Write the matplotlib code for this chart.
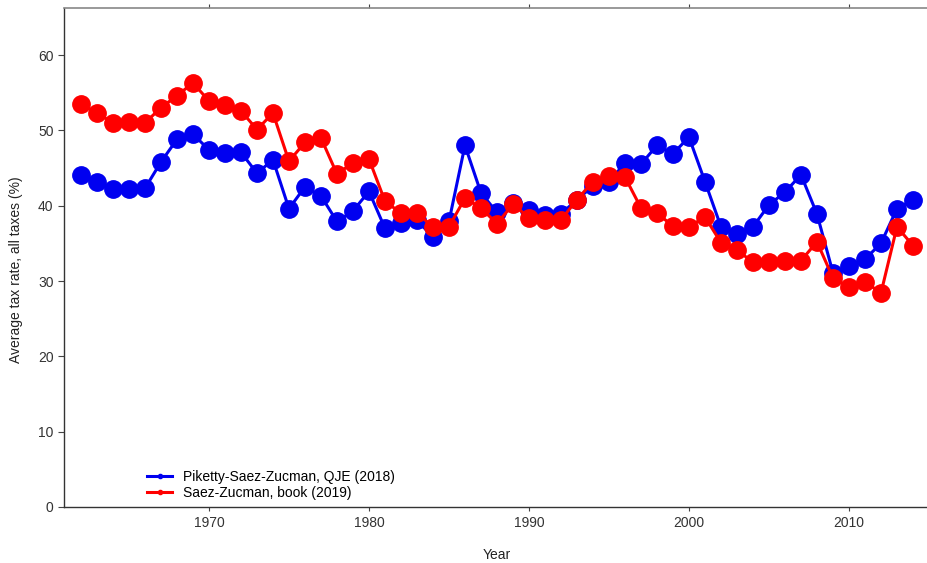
import matplotlib
matplotlib.use("Agg")
import matplotlib.pyplot as plt
from matplotlib.lines import Line2D

plt.rcParams['font.family'] = ['Liberation Sans', 'DejaVu Sans']

years = list(range(1962, 2015))
psz_2018 = [44.1, 43.2, 42.2, 42.2, 42.3, 45.8, 48.8, 49.5, 47.4, 47.0,
            47.1, 44.3, 46.1, 39.6, 42.5, 41.3, 37.9, 39.3, 41.9, 37.0,
            37.7, 38.1, 35.8, 37.9, 48.0, 41.7, 39.1, 40.3, 39.4, 38.8,
            38.9, 40.8, 42.6, 43.1, 45.7, 45.5, 48.0, 46.9, 49.1, 43.2,
            37.2, 36.3, 37.2, 40.1, 41.8, 44.1, 38.9, 31.1, 32.0, 32.9,
            35.0, 39.6, 40.8]
sz_2019 = [53.5, 52.3, 51.0, 51.1, 51.0, 53.0, 54.6, 56.3, 53.9, 53.4,
           52.6, 50.1, 52.3, 45.9, 48.4, 49.0, 44.2, 45.7, 46.2, 40.6,
           39.0, 39.0, 37.2, 37.2, 41.0, 39.7, 37.6, 40.2, 38.4, 38.1,
           38.1, 40.8, 43.2, 44.0, 43.8, 39.7, 39.0, 37.3, 37.2, 38.5,
           35.1, 34.1, 32.5, 32.5, 32.6, 32.7, 35.2, 30.4, 29.2, 29.9,
           28.4, 37.2, 34.7]
labels = ["Piketty-Saez-Zucman, QJE (2018)", "Saez-Zucman, book (2019)"]
xticks = [1970, 1980, 1990, 2000, 2010]
yticks = [0, 10, 20, 30, 40, 50, 60]

BLUE = '#0000f0'
RED = '#ff0000'

fig = plt.figure(figsize=(9.28, 5.63), dpi=100)
ax = fig.add_axes([64/928, 1-507/563, 1-64/928, (507-8)/563])

ax.plot(years, psz_2018, color=BLUE, lw=2.2, marker='o', ms=12.5,
        label=labels[0], zorder=3)
ax.plot(years, sz_2019, color=RED, lw=2.2, marker='o', ms=12.5,
        label=labels[1], zorder=4)

ax.set_xlim(1960.94, 2014.94)
ax.set_ylim(0, 66.24)
ax.set_xticks(xticks)
ax.set_yticks(yticks)
ax.tick_params(axis='both', direction='out', length=4, width=0.8,
               colors='#444444', labelsize=10, labelcolor='#333333')
ax.tick_params(axis='x', top=True, length=3)

for s in ['left', 'bottom']:
    ax.spines[s].set_color('#333333')
    ax.spines[s].set_linewidth(1.0)
ax.spines['top'].set_color('#888888')
ax.spines['top'].set_linewidth(1.2)
ax.spines['right'].set_visible(False)

ax.set_xlabel("Year", fontsize=10, color='#222222')
ax.xaxis.set_label_coords((497-64)/864, (507-548)/499)
ax.set_ylabel("Average tax rate, all taxes (%)", fontsize=10, color='#222222')
ax.yaxis.set_label_coords((9-64)/864, (507-270)/499)
ax.yaxis.label.set_va('top')

h1 = Line2D([], [], color=BLUE, lw=2.2, marker='o', ms=3)
h2 = Line2D([], [], color=RED, lw=2.2, marker='o', ms=3)
ax.legend([h1, h2], labels, loc='lower left', bbox_to_anchor=(0.09, 0.003),
          frameon=False, fontsize=10, handlelength=1.8, handletextpad=0.8,
          labelspacing=0.15, borderaxespad=0)

fig.savefig("out.png", dpi=100)
